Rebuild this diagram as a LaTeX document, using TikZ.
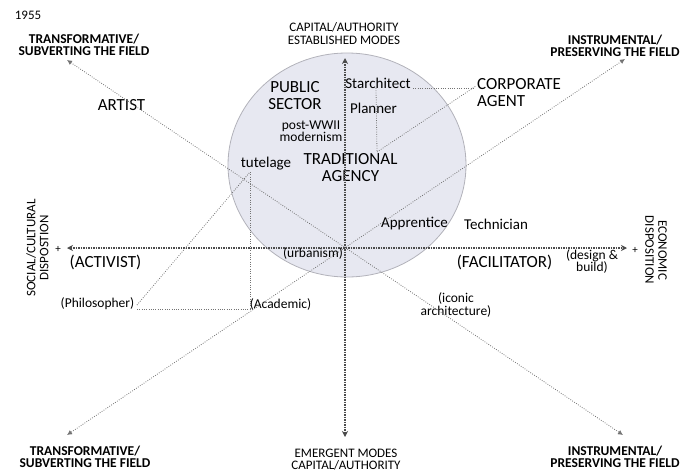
\documentclass[tikz,border=0pt]{standalone}
\usepackage{fontspec}
\setmainfont{Carlito}
\usetikzlibrary{arrows.meta}
\definecolor{ellfill}{RGB}{231,232,241}
\definecolor{elldraw}{RGB}{178,178,186}
\definecolor{axcol}{RGB}{75,75,75}
\definecolor{dgcol}{RGB}{115,115,115}
\begin{document}
\begin{tikzpicture}[x=1pt,y=-1pt,
  lbl/.style={inner sep=0pt, align=center, text=black},
  big/.style={lbl, font=\fontsize{17}{17}\selectfont},
  mid/.style={lbl, font=\fontsize{15}{16}\selectfont},
  sml/.style={lbl, font=\fontsize{13.5}{12.5}\selectfont},
  axlab/.style={lbl, font=\fontsize{13}{13}\selectfont},
  corner/.style={lbl, font=\bfseries\fontsize{13.5}{12.5}\selectfont},
  axisline/.style={draw=axcol, line width=1.2pt, dash pattern=on 1.5pt off 1pt,
    {Stealth[length=6pt,width=6pt]}-{Stealth[length=6pt,width=6pt]}},
  diag/.style={draw=dgcol, line width=0.8pt, dash pattern=on 0.8pt off 1.5pt,
    {Latex[length=5pt,width=5pt]}-{Latex[length=5pt,width=5pt]}},
  helper/.style={draw=dgcol, line width=0.8pt, dash pattern=on 0.8pt off 1.5pt},
]
\useasboundingbox (0,0) rectangle (694,472);
\path[fill=ellfill, draw=elldraw, line width=0.8pt] (347,165) ellipse [x radius=119, y radius=112];

% texts
\node[axlab, anchor=center] (year) at (28,15) {1955};
\node[corner] (tl) at (84,45) {TRANSFORMATIVE/\\SUBVERTING THE FIELD};
\node[axlab] (top) at (344,33.5) {CAPITAL/AUTHORITY\\ESTABLISHED MODES};
\node[corner] (tr) at (615,46) {INSTRUMENTAL/\\PRESERVING THE FIELD};
\node[corner] (bl) at (85,457) {TRANSFORMATIVE/\\SUBVERTING THE FIELD};
\node[lbl, font=\fontsize{13}{12.5}\selectfont] (bot) at (346,459.5) {EMERGENT MODES\\CAPITAL/AUTHORITY};
\node[corner] (br) at (615,457) {INSTRUMENTAL/\\PRESERVING THE FIELD};
\node[big] (artist) at (121.5,105.5) {ARTIST};
\node[big] (public) at (295,96) {PUBLIC\\SECTOR};
\node[mid] (star) at (378,83) {Starchitect};
\node[mid] (planner) at (373.5,108) {Planner};
\node[big, align=left, anchor=west] (corp) at (477,92.5) {CORPORATE\\AGENT};
\node[sml] (postwar) at (311,131) {post-WWII\\modernism};
\node[big] (trad) at (350.5,167.5) {TRADITIONAL\\AGENCY};
\node[mid] (tut) at (266,164) {tutelage};
\node[mid] (appr) at (414.5,224) {Apprentice};
\node[mid] (tech) at (496,224) {Technician};
\node[big] (act) at (105.5,262) {(ACTIVIST)};
\node[big] (fac) at (504.5,262) {(FACILITATOR)};
\node[sml] (urb) at (313,253) {(urbanism)};
\node[sml] (db) at (592,261.5) {(design \&\\build)};
\node[sml] (phil) at (97.5,304) {(Philosopher)};
\node[sml] (acad) at (280.5,304) {(Academic)};
\node[sml] (icon) at (456,305) {(iconic\\architecture)};
\node[axlab, rotate=90] (soc) at (37.5,248) {SOCIAL/CULTURAL\\DISPOSTION};
\node[axlab, rotate=-90] (eco) at (656,250) {ECONOMIC\\DISPOSITION};
\node[lbl, font=\fontsize{11}{11}\selectfont] (plusL) at (58,249) {+};
\node[lbl, font=\fontsize{11}{11}\selectfont] (plusR) at (635,250) {+};

% axes and diagonals
\coordinate (axT) at (345,58);
\coordinate (axB) at (345,437);
\coordinate (axL) at (67,248);
\coordinate (axR) at (627,248);
\coordinate (dTL) at (67,60);
\coordinate (dBR) at (623,435);
\coordinate (dTR) at (625,59);
\coordinate (dBL) at (67,435);
\draw[diag] (dTL) -- (dBR);
\draw[diag] (dTR) -- (dBL);
\draw[axisline] (axL) -- (axR);
\draw[axisline] (axT) -- (axB);

% helper lines
\coordinate (starR) at (413,88);
\coordinate (corpL) at (475,88);
\coordinate (plT) at (376,88);
\coordinate (plB) at (377,152);
\coordinate (corpD) at (476,86);
\coordinate (tutB) at (250,172);
\coordinate (acadL) at (250,309);
\coordinate (philR) at (137,309);
\coordinate (philU) at (137,305);
\draw[helper] (starR) -- (corpL);
\draw[helper] (plT) -- (plB);
\draw[helper] (plB) -- (corpD);
\draw[helper] (tutB) -- (acadL);
\draw[helper] (philR) -- (acadL);
\draw[helper] (philU) -- (tutB);
\end{tikzpicture}
\end{document}
